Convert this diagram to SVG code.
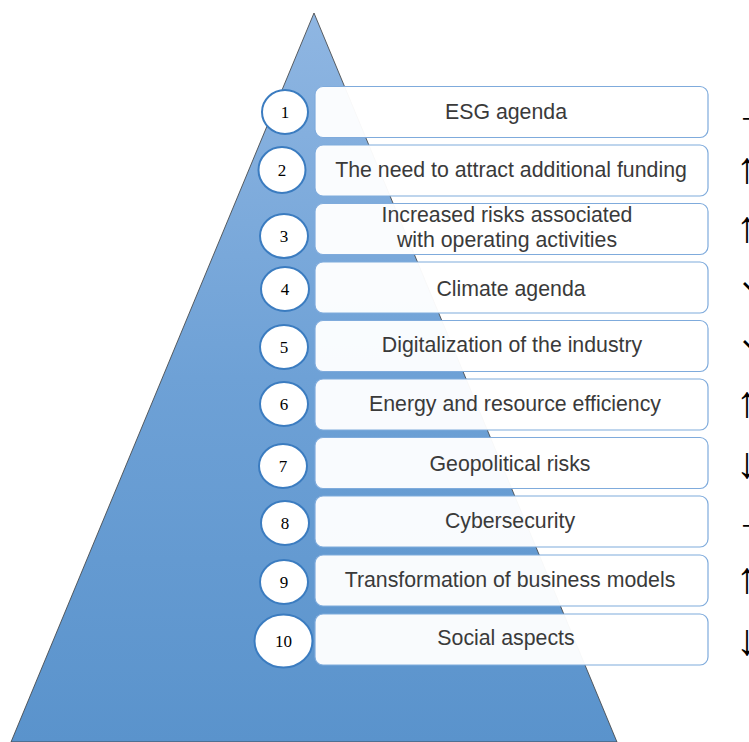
<svg xmlns="http://www.w3.org/2000/svg" width="749" height="742" viewBox="0 0 749 742">
  <defs>
    <linearGradient id="pyramidFill" x1="0" y1="0" x2="0" y2="1">
      <stop offset="0" stop-color="#8fb6e2"/>
      <stop offset="0.5" stop-color="#6ea1d6"/>
      <stop offset="1" stop-color="#5a93cc"/>
    </linearGradient>
  </defs>
  <style>
    .box { fill: #ffffff; fill-opacity: 0.96; stroke: #7fabdc; stroke-width: 1.2; }
    .badge { fill: #ffffff; stroke: #3b7cc0; stroke-width: 2; }
    .num { font-family: "Liberation Serif", "Times New Roman", serif; font-size: 17px; fill: #000000; text-anchor: middle; }
    .label { font-family: "Liberation Sans", Arial, sans-serif; font-size: 21.3px; fill: #3a3a3a; text-anchor: middle; }
    .trend { font-family: "Liberation Sans", "DejaVu Sans", sans-serif; font-size: 44px; fill: #000000; text-anchor: middle; }
    .trend-s { font-family: "Liberation Sans", "DejaVu Sans", sans-serif; font-size: 32px; fill: #000000; text-anchor: middle; }
  </style>

  <!-- pyramid background -->
  <polygon id="pyramid" points="314,13 617,742 11,742" fill="url(#pyramidFill)" stroke="#3c3c3c" stroke-width="0.8"/>

  <g id="row1">
    <rect class="box" x="315" y="86.5" width="393" height="51" rx="8"/>
    <ellipse class="badge" cx="285" cy="112" rx="23" ry="22"/>
    <text class="num" x="285" y="118">1</text>
    <text class="label" x="506" y="119">ESG agenda</text>
    <text class="trend" x="756" y="126">→</text>
  </g>
  <g id="row2">
    <rect class="box" x="315" y="145" width="393" height="51" rx="8"/>
    <ellipse class="badge" cx="282" cy="170" rx="23.5" ry="23"/>
    <text class="num" x="282" y="176">2</text>
    <text class="label" x="511" y="177">The need to attract additional funding</text>
    <text class="trend" x="747" y="183">↑</text>
  </g>
  <g id="row3">
    <rect class="box" x="315" y="203.5" width="393" height="51" rx="8"/>
    <ellipse class="badge" cx="284" cy="236" rx="24" ry="22"/>
    <text class="num" x="284" y="242">3</text>
    <text class="label" x="507" y="222">Increased risks associated</text>
    <text class="label" x="507" y="247">with operating activities</text>
    <text class="trend" x="747" y="242">↑</text>
  </g>
  <g id="row4">
    <rect class="box" x="315" y="262" width="393" height="51" rx="8"/>
    <ellipse class="badge" cx="285" cy="289" rx="24" ry="22"/>
    <text class="num" x="285" y="295">4</text>
    <text class="label" x="511" y="296">Climate agenda</text>
    <text class="trend-s" x="752" y="301">↘</text>
  </g>
  <g id="row5">
    <rect class="box" x="315" y="320.5" width="393" height="51" rx="8"/>
    <ellipse class="badge" cx="284" cy="347" rx="24" ry="22"/>
    <text class="num" x="284" y="353">5</text>
    <text class="label" x="512" y="352">Digitalization of the industry</text>
    <text class="trend-s" x="752" y="359">↘</text>
  </g>
  <g id="row6">
    <rect class="box" x="315" y="379" width="393" height="51" rx="8"/>
    <ellipse class="badge" cx="284" cy="404" rx="24" ry="22"/>
    <text class="num" x="284" y="410">6</text>
    <text class="label" x="515" y="411">Energy and resource efficiency</text>
    <text class="trend" x="747" y="417">↑</text>
  </g>
  <g id="row7">
    <rect class="box" x="315" y="437.5" width="393" height="51" rx="8"/>
    <ellipse class="badge" cx="283" cy="466" rx="24" ry="22"/>
    <text class="num" x="283" y="472">7</text>
    <text class="label" x="510" y="471">Geopolitical risks</text>
    <text class="trend" x="747" y="478">↓</text>
  </g>
  <g id="row8">
    <rect class="box" x="315" y="496" width="393" height="51" rx="8"/>
    <ellipse class="badge" cx="285" cy="523" rx="24" ry="22"/>
    <text class="num" x="285" y="529">8</text>
    <text class="label" x="510" y="528">Cybersecurity</text>
    <text class="trend" x="756" y="533">→</text>
  </g>
  <g id="row9">
    <rect class="box" x="315" y="555" width="393" height="51" rx="8"/>
    <ellipse class="badge" cx="284" cy="582" rx="24" ry="22"/>
    <text class="num" x="284" y="588">9</text>
    <text class="label" x="510" y="587">Transformation of business models</text>
    <text class="trend" x="747" y="593">↑</text>
  </g>
  <g id="row10">
    <rect class="box" x="315" y="614" width="393" height="51" rx="8"/>
    <ellipse class="badge" cx="283.5" cy="641" rx="29" ry="26.5"/>
    <text class="num" x="283.5" y="647">10</text>
    <text class="label" x="506" y="645">Social aspects</text>
    <text class="trend" x="747" y="655">↓</text>
  </g>

  <g id="connectors"/>
</svg>
